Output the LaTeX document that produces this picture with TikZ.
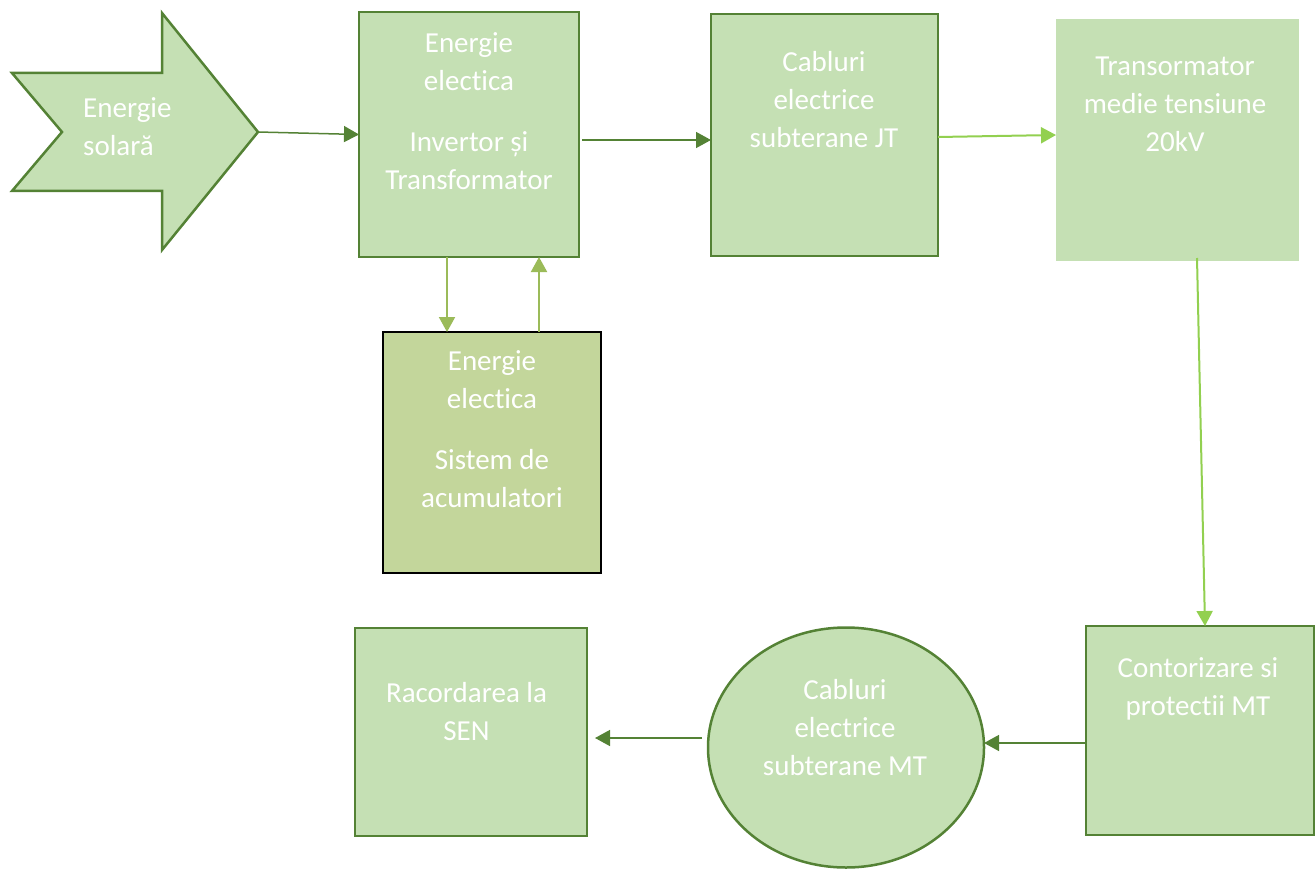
\documentclass[tikz,border=0pt]{standalone}
\usepackage{fontspec}
\setmainfont{Carlito}[RawFeature={-liga;-dlig;-clig}]
\usetikzlibrary{arrows.meta,shapes.geometric}
\definecolor{fillg}{HTML}{C5E0B4}
\definecolor{darkg}{HTML}{548235}
\definecolor{lightg}{HTML}{92D050}
\definecolor{oliveg}{HTML}{9BBB59}
\definecolor{olivefill}{HTML}{C3D69B}
\begin{document}
\begin{tikzpicture}[x=1pt,y=-1pt,
  box/.style={draw=darkg, line width=2.5pt, fill=fillg, inner sep=0pt, outer sep=0pt},
  plainbox/.style={fill=fillg, inner sep=0pt, outer sep=0pt},
  accbox/.style={draw=black, line width=2pt, fill=olivefill, inner sep=0pt, outer sep=0pt},
  txt/.style={text=white, inner sep=0pt, align=center, font=\fontsize{29}{38}\selectfont},
  dk/.style={draw=darkg, line width=1.5pt, -{Triangle[length=15pt,width=16pt]}},
  lt/.style={draw=lightg, line width=2pt, -{Triangle[length=15pt,width=16pt]}},
  ol/.style={draw=oliveg, line width=2pt, -{Triangle[length=15pt,width=16pt]}}
]
\useasboundingbox (0,0) rectangle (1316,869);

% solar arrow shape
\draw[darkg, line width=2.5pt, fill=fillg, line join=miter]
  (12,73) -- (162,73) -- (162,13) -- (258,132) -- (162,250) -- (162,191) -- (12,191) -- (62,132) -- cycle;
\coordinate (suntip) at (258,132);
\node[txt, anchor=north west, align=left] (sunt) at (83,97) {Energie\\solară};

% boxes
\node[box, minimum width=220pt, minimum height=245pt] (b1) at (469,134.5) {};
\node[txt, anchor=north] (t1) at (469,32) {Energie\\electica\\[23pt]Invertor și\\Transformator};

\node[box, minimum width=227pt, minimum height=242pt] (b2) at (824.5,135) {};
\node[txt, anchor=north] (t2) at (824,51) {Cabluri\\electrice\\subterane JT};

\node[plainbox, minimum width=243pt, minimum height=242pt] (b3) at (1177.5,140) {};
\node[txt, anchor=north] (t3) at (1175,57) {Transormator\\medie tensiune\\20kV};

\node[accbox, minimum width=218pt, minimum height=241pt] (b4) at (492,452.5) {};
\node[txt, anchor=north] (t4) at (492,350) {Energie\\electica\\[23pt]Sistem de\\acumulatori};

\node[box, minimum width=228pt, minimum height=209pt] (b5) at (1200,730.5) {};
\node[txt, anchor=north] (t5) at (1198,657) {Contorizare si\\protectii MT};

\node[ellipse, draw=darkg, line width=2.5pt, fill=fillg, inner sep=0pt, outer sep=0pt,
      minimum width=276pt, minimum height=240pt] (ell) at (846,747.5) {};
\node[txt, anchor=north] (t6) at (845,679) {Cabluri\\electrice\\subterane MT};

\node[box, minimum width=232pt, minimum height=208pt] (b6) at (471,732) {};
\node[txt, anchor=north] (t7) at (466.5,682) {Racordarea la\\SEN};

% connectors
\draw[dk] (suntip) -- (b1.west);
\draw[dk] ([shift={(3pt,-5.5pt)}]b1.east) -- ([yshift=-5pt]b2.west);
\draw[lt] ([yshift=-2pt]b2.east) -- ([yshift=5pt]b3.west);
\draw[ol] ([xshift=-22pt]b1.south) -- ([xshift=-45pt]b4.north);
\draw[ol] ([xshift=47pt]b4.north) -- ([xshift=70pt]b1.south);
\draw[lt] ([shift={(19.5pt,3pt)}]b3.south) -- ([xshift=5pt]b5.north);
\draw[dk] ([yshift=-12.5pt]b5.west) -- ([yshift=4.5pt]ell.east);
\draw[dk] ([shift={(-6pt,9.5pt)}]ell.west) -- ([shift={(8pt,-6pt)}]b6.east);
\end{tikzpicture}
\end{document}
